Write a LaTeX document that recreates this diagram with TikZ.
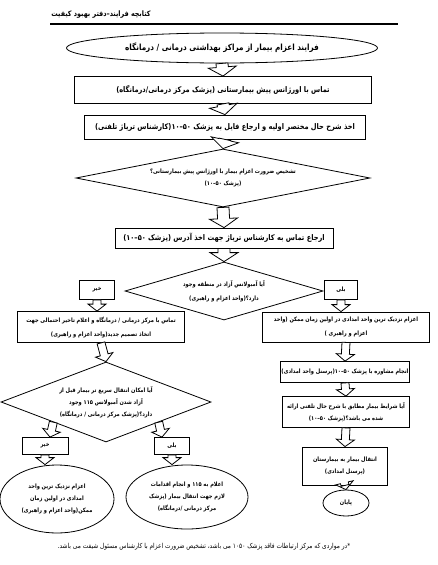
\documentclass[tikz,border=0pt]{standalone}
\usepackage{fontspec}
\usepackage{tikz}
\usetikzlibrary{positioning,shapes.geometric,calc}
\TeXXeTstate=1
\newfontfamily\farsi[Script=Arabic,FakeStretch=0.85]{DejaVu Sans}
\newcommand\rtl[1]{\beginR #1\endR}

\begin{document}
\begin{tikzpicture}[
    x=1pt, y=-1pt,
    box/.style={
        rectangle,
        draw=black,
        line width=0.8pt,
        align=center,
        inner sep=1pt,
        font=\farsi\bfseries\fontsize{7.8}{11}\selectfont
    },
    small/.style={
        font=\farsi\bfseries\fontsize{6}{12}\selectfont
    },
    oval/.style={
        ellipse,
        draw=black,
        line width=0.8pt,
        align=center,
        inner sep=0pt,
        font=\farsi\bfseries\fontsize{8}{11}\selectfont
    },
    decision/.style={
        diamond,
        draw=black,
        line width=0.8pt,
        align=center,
        inner sep=0pt
    },
    hollowarrow/.style n args={3}{
        draw=black,
        fill=white,
        line width=0.8pt,
        to path={
            ($(\tikztotarget)!#3!(\tikztostart)$) coordinate (hb)
            ($(\tikztostart)!#1!90:(\tikztotarget)$)
            -- ($(hb)!#1!90:(\tikztotarget)$)
            -- ($(hb)!#2!90:(\tikztotarget)$)
            -- (\tikztotarget)
            -- ($(hb)!#2!-90:(\tikztotarget)$)
            -- ($(hb)!#1!-90:(\tikztotarget)$)
            -- ($(\tikztostart)!#1!-90:(\tikztotarget)$)
            -- cycle
        }
    },
    hollow/.style={hollowarrow={6pt}{14pt}{9pt}},
    thin hollow/.style={hollowarrow={4pt}{9pt}{7pt}}
]
\useasboundingbox (0,0) rectangle (437,565);

% header
\node[font=\farsi\bfseries\fontsize{7.5}{9}\selectfont] (header) at (101,15) {\rtl{کتابچه فرایند–دفتر بهبود کیفیت}};
\coordinate (rulel) at (50,24);
\coordinate (ruler) at (398,24);
\draw[line width=1.6pt] (rulel) -- (ruler);

% main column
\node[oval,font=\farsi\bfseries\fontsize{8.5}{11}\selectfont,minimum width=311pt,minimum height=30pt] (title) at (222,48) {\rtl{فرایند اعزام بیمار از مراکز بهداشتی درمانی / درمانگاه}};
\node[box,minimum width=297pt,minimum height=27pt] (contact) at (223,90) {\rtl{تماس با اورژانس پیش بیمارستانی (پزشک مرکز درمانی/درمانگاه)}};
\node[box,minimum width=281pt,minimum height=24pt] (history) at (225,127) {\rtl{اخذ شرح حال مختصر اولیه و ارجاع فایل به پزشک ۵۰–۱۰(کارشناس تریاژ تلفنی)}};
\node[decision,small,aspect=5.07,minimum width=294pt,minimum height=58pt] (need) at (223,178) {\rtl{تشخیص ضرورت اعزام بیمار با اورژانس پیش بیمارستانی؟}\\\rtl{(پزشک ۵۰–۱۰)}};
\node[box,minimum width=218pt,minimum height=20pt] (address) at (224,238) {\rtl{ارجاع تماس به کارشناس تریاژ جهت اخذ آدرس (پزشک ۵۰–۱۰)}};
\node[decision,small,aspect=3.4,minimum width=198pt,minimum height=58pt] (free) at (224,291) {\rtl{آیا آمبولانس آزاد در منطقه وجود}\\[2pt]\rtl{دارد؟(واحد اعزام و راهبری)}};

% branches
\node[box,small,minimum width=35pt,minimum height=19pt] (no1) at (97,290) {\rtl{خیر}};
\node[box,small,minimum width=33pt,minimum height=19pt] (yes1) at (341,290) {\rtl{بلی}};
\node[box,small,minimum width=167pt,minimum height=31pt] (delay) at (101,327) {\rtl{تماس با مرکز درمانی / درمانگاه و اعلام تاخیر احتمالی جهت}\\[2pt]\rtl{اتخاذ تصمیم جدید(واحد اعزام و راهبری)}};
\node[box,small,minimum width=167pt,minimum height=30pt] (dispatch) at (346,327) {\rtl{اعزام نزدیک ترین واحد امدادی در اولین زمان ممکن (واحد}\\[2pt]\rtl{اعزام و راهبری )}};

% left side
\node[decision,small,aspect=2.6,minimum width=210pt,minimum height=80pt] (faster) at (106,402) {\rtl{آیا امکان انتقال سریع تر بیمار قبل از}\\\rtl{آزاد شدن آمبولانس ۱۱۵ وجود}\\\rtl{دارد؟(پزشک مرکز درمانی / درمانگاه)}};
\node[box,small,minimum width=46pt,minimum height=17pt] (no2) at (45,446) {\rtl{خیر}};
\node[box,small,minimum width=35pt,minimum height=17pt] (yes2) at (172,446) {\rtl{بلی}};
\node[oval,small,minimum width=114pt,minimum height=68pt] (nearest) at (57,499) {\rtl{اعزام نزدیک ترین واحد}\\\rtl{امدادی در اولین زمان}\\\rtl{ممکن(واحد اعزام و راهبری)}};
\node[oval,small,minimum width=122pt,minimum height=64pt] (notify) at (187,497) {\rtl{اعلام به ۱۱۵ و انجام اقدامات}\\\rtl{لازم جهت انتقال بیمار (پزشک}\\\rtl{مرکز درمانی /درمانگاه)}};

% right side
\node[box,small,minimum width=110pt,minimum height=21pt] (consult) at (345,372) {\rtl{انجام مشاوره با پزشک ۵۰–۱۰(پرسنل واحد امدادی)}};
\node[box,small,minimum width=127pt,minimum height=31pt] (match) at (346,412) {\rtl{آیا شرایط بیمار مطابق با شرح حال تلفنی ارائه}\\\rtl{شده می باشد؟(پزشک ۵۰–۱۰)}};
\node[box,small,minimum width=85pt,minimum height=38pt] (transfer) at (345,466) {\rtl{انتقال بیمار به بیمارستان}\\\rtl{(پرسنل امدادی)}};
\node[oval,small,minimum width=46pt,minimum height=26pt] (finish) at (346,503) {\rtl{پایان}};

% footnote
\node[font=\farsi\fontsize{6.9}{8}\selectfont] (note) at (204,547) {\rtl{*در مواردی که مرکز ارتباطات فاقد پزشک ۱۰۵۰ می باشد، تشخیص ضرورت اعزام با کارشناس مسئول شیفت می باشد.}};

\draw[hollow] (title.south) to (contact.north);
\draw[hollow] (contact.south) to (history.north);
\draw[hollow] (history.south) to (need.north);
\draw[hollow] (need.south) to (address.north);
\draw[hollow] (address.south) to (free.north);
\draw[thin hollow] (no1.south) to (delay.north -| no1.south);
\draw[thin hollow] (yes1.south) to (dispatch.north -| yes1.south);
\draw[thin hollow] (delay.south) to (faster.north);
\draw[thin hollow] ($(faster.west)!0.5!(faster.south)$) to ($(no2.north)+(5,0)$);
\draw[thin hollow] ($(faster.east)!0.5!(faster.south)$) to ($(yes2.north)+(-10,0)$);
\draw[thin hollow] (no2.south) to (nearest.north -| no2.south);
\draw[thin hollow] (yes2.south) to (notify.north -| yes2.south);
\draw[thin hollow] (dispatch.south) to (consult.north);
\draw[thin hollow] (consult.south) to (match.north);
\draw[thin hollow] (match.south) to (transfer.north);
\draw[thin hollow] (transfer.south) to (finish.north);

\end{tikzpicture}
\end{document}
